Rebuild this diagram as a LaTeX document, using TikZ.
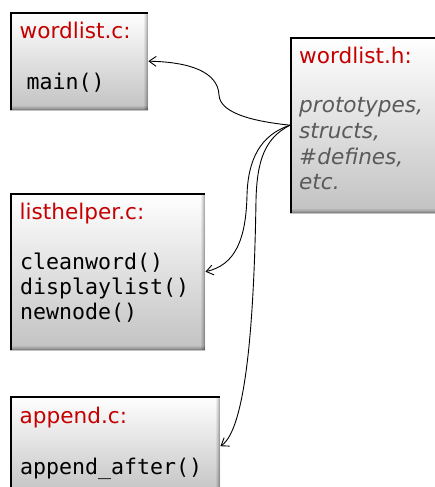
\documentclass[tikz,border=0pt]{standalone}
\usepackage{fontspec}
\setmainfont{DejaVu Sans}
\setmonofont{DejaVu Sans Mono}
\usetikzlibrary{arrows.meta}

\definecolor{fname}{RGB}{196,0,0}
\definecolor{note}{RGB}{90,90,90}

\tikzset{
  % source-file panel: light vertical gradient, dark top/left rim, soft inner shade right/bottom
  filebox/.style={rectangle, anchor=north west, inner sep=0pt,
    top color=white, bottom color=black!24,
    path picture={
      \foreach \d/\o in {0.5/0.30,1.5/0.20,2.5/0.12,3.5/0.06}{
        \draw[black, opacity=\o, line width=1pt]
          ([xshift=-\d pt]path picture bounding box.north east) --
          ([xshift=-\d pt]path picture bounding box.south east);
        \draw[black, opacity=\o, line width=1pt]
          ([yshift=\d pt]path picture bounding box.south west) --
          ([yshift=\d pt]path picture bounding box.south east);
      }
      \draw[black, line width=4pt]
        (path picture bounding box.south west) --
        (path picture bounding box.north west) --
        (path picture bounding box.north east);
    }},
  title/.style={anchor=base west, inner sep=0pt, text=fname,
    font=\fontsize{21.6}{25}\selectfont},
  code/.style={anchor=base west, inner sep=0pt, text=black,
    font=\fontsize{21.6}{25}\selectfont\ttfamily},
  remark/.style={anchor=base west, inner sep=0pt, text=note,
    font=\fontsize{21.6}{25}\selectfont\itshape},
  conn/.style={draw=black, line width=0.9pt,
    -{Straight Barb[length=7pt,width=10pt]}}
}

\begin{document}
\begin{tikzpicture}[x=1pt,y=-1pt]
  \useasboundingbox (0,0) rectangle (435,487);

  % panels
  \node[filebox, minimum width=138pt, minimum height=98pt]  (wlc) at (10,12)  {};
  \node[filebox, minimum width=150pt, minimum height=176pt] (wlh) at (290,37) {};
  \node[filebox, minimum width=195pt, minimum height=157pt] (lh)  at (10,193) {};
  \node[filebox, minimum width=210pt, minimum height=100pt] (ap)  at (10,396) {};

  % wordlist.c
  \node[title] (wlc-t) at (19.5,39) {wordlist.c:};
  \node[code]  (wlc-1) at (26.5,89) {main()};

  % wordlist.h
  \node[title]  (wlh-t) at (299,63.3)  {wordlist.h:};
  \node[remark] (wlh-1) at (299,112.6) {prototypes,};
  \node[remark] (wlh-2) at (299,138.3) {structs,};
  \node[remark] (wlh-3) at (299,164)   {\#defines,};
  \node[remark] (wlh-4) at (299,189.7) {etc.};

  % listhelper.c
  \node[title] (lh-t) at (19.5,219) {listhelper.c:};
  \node[code]  (lh-1) at (20,269)   {cleanword()};
  \node[code]  (lh-2) at (20,294)   {displaylist()};
  \node[code]  (lh-3) at (20,319)   {newnode()};

  % append.c
  \node[title] (ap-t) at (19.5,423) {append.c:};
  \node[code]  (ap-1) at (20,474)   {append\_after()};

  % bend points of the include links
  \coordinate (b1) at (219,95);
  \coordinate (b2) at (247,195);
  \coordinate (b3) at (256,200);

  % header included by every source file
  \draw[conn] (wlh.west) .. controls (260,122) and (220,115) .. (b1)
              .. controls (218,72) and (190,62) .. (wlc.east);
  \draw[conn] (wlh.west) .. controls (260,135) and (248,160) .. (b2)
              .. controls (246,240) and (235,265) .. (lh.east);
  \draw[conn] (wlh.west) .. controls (265,138) and (257,160) .. (b3)
              .. controls (254,330) and (245,430) .. (ap.east);
\end{tikzpicture}
\end{document}
